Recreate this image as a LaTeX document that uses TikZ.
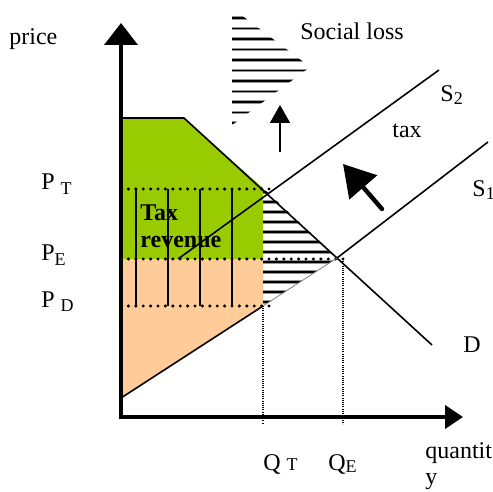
\documentclass[tikz,border=0pt]{standalone}
\usepackage{fontspec}
\setmainfont{Liberation Serif}
\usepackage{xcolor}
\usetikzlibrary{arrows.meta,calc}
\definecolor{clrRev}{RGB}{153,204,0}
\definecolor{clrCons}{RGB}{255,204,153}
\definecolor{clrHalo}{RGB}{150,150,150}
\newcommand{\lsub}[2][2pt]{\raisebox{-#1}{\fontsize{9}{9}\selectfont #2}}
\tikzset{
  axis/.style={line width=2pt},
  curve/.style={line width=0.8pt},
  level/.style={line width=1.7pt,line cap=round,dash pattern=on 0pt off 3.7pt},
  drop/.style={line width=0.6pt,dash pattern=on 0.5pt off 0.6pt},
  stripe/.style={line width=1.6pt,color=clrHalo},
  stripecore/.style={line width=0.9pt,color=black},
  lbl/.style={font=\fontsize{12}{14}\selectfont,inner sep=0pt,anchor=base west},
  shiftarrow/.style={-{Triangle[length=9pt,width=10pt]},line width=0.8pt}
}

\begin{document}
\begin{tikzpicture}[x=0.5pt,y=-0.5pt]
  \useasboundingbox (0,0) rectangle (493,492);
  % points of the diagram (pixel grid, y down)
  \coordinate (o) at (121,417);
  \coordinate (yTop) at (121,23);
  \coordinate (xEnd) at (463,417);
  \coordinate (cap) at (121,118);
  \coordinate (dTop) at (184,118);
  \coordinate (dEnd) at (432,345);
  \coordinate (sBase) at (121,398);
  \coordinate (tPt) at (263,188);
  \coordinate (mPt) at (263,259);
  \coordinate (dPt) at (263,306);
  \coordinate (ePt) at (337,258);
  \coordinate (sOneEnd) at (488,142);
  \coordinate (sTwoBeg) at (178,259);
  \coordinate (sTwoEnd) at (439,70);
  \coordinate (lossA) at (232,8);
  \coordinate (lossB) at (310,67);
  \coordinate (lossC) at (232,125);
  % areas
  \fill[clrRev] (121,118) -- (dTop) -- (tPt) -- (mPt) -- (121,259) -- cycle;
  \fill[clrCons] (121,259) -- (mPt) -- (dPt) -- (sBase) -- cycle;
  \begin{scope}
    \clip (tPt) -- (ePt) -- (dPt) -- cycle;
    \foreach \y in {192,202,...,302} {
      \draw[stripe] (255,\y) -- (345,\y);
      \draw[stripecore] (255,\y) -- (345,\y);
    }
  \end{scope}
  \begin{scope}
    \clip (lossA) -- (lossB) -- (lossC) -- cycle;
    \foreach \y in {18,28.5,...,124} {
      \draw[stripe] (225,\y) -- (315,\y);
      \draw[stripecore] (225,\y) -- (315,\y);
    }
  \end{scope}
  % tax revenue bars
  \foreach \x in {136,168,200,232}
    \draw[curve] (\x,189) -- (\x,306);
  % price levels and quantities
  \draw[level] (121,189) -- (270,189);
  \draw[level] (121,259) -- (345,259);
  \draw[level] (121,306) -- (270,306);
  \draw[drop] (dPt) -- (263,424);
  \draw[drop] (343,259) -- (343,424);
  % demand and supply
  \draw[curve] (cap) -- (dTop) -- (dEnd);
  \draw[curve] (sBase) -- (dPt);
  \draw[line width=0.4pt,gray] (dPt) -- (ePt);
  \draw[curve] (ePt) -- (sOneEnd);
  \draw[curve] (sTwoBeg) -- (sTwoEnd);
  % axes
  \draw[axis,-{Triangle[length=11pt,width=16.5pt]}] (o) -- (yTop);
  \draw[axis,-{Triangle[length=9pt,width=11.5pt]}] (119,417) -- (xEnd);
  % shift arrows
  \draw[shiftarrow] (280,152) -- (280,105);
  \draw[line width=2.2pt,line cap=round,-{Triangle[length=15.5pt,width=18pt]}] (382,209) -- (343,164);
  % labels
  \node[lbl] (price) at (9,45) {price};
  \node[lbl] (loss) at (300,40) {Social loss};
  \node[lbl] (sTwo) at (440,102) {S\lsub[1.5pt]{2}};
  \node[lbl] (tax) at (392,138) {tax};
  \node[lbl] (sOne) at (472,197) {S\lsub[1.5pt]{1}};
  \node[lbl] (dem) at (463,352) {D};
  \node[lbl] (pT) at (41,190) {P \lsub{T}};
  \node[lbl] (pE) at (41,260) {P\lsub[2.5pt]{E}};
  \node[lbl] (pD) at (41,307) {P \lsub{D}};
  \node[lbl] (qT) at (263,470) {Q \lsub[0pt]{T}};
  \node[lbl] (qE) at (328,470) {Q\lsub[1pt]{E}};
  \node[lbl] (qty) at (425,458) {quantit};
  \node[lbl] (qtyy) at (425,484) {y};
  \node[font=\fontsize{12}{13.5}\selectfont\bfseries,inner sep=0pt,anchor=north west,align=left]
    (rev) at (140,204) {Tax\\revenue};
\end{tikzpicture}
\end{document}
